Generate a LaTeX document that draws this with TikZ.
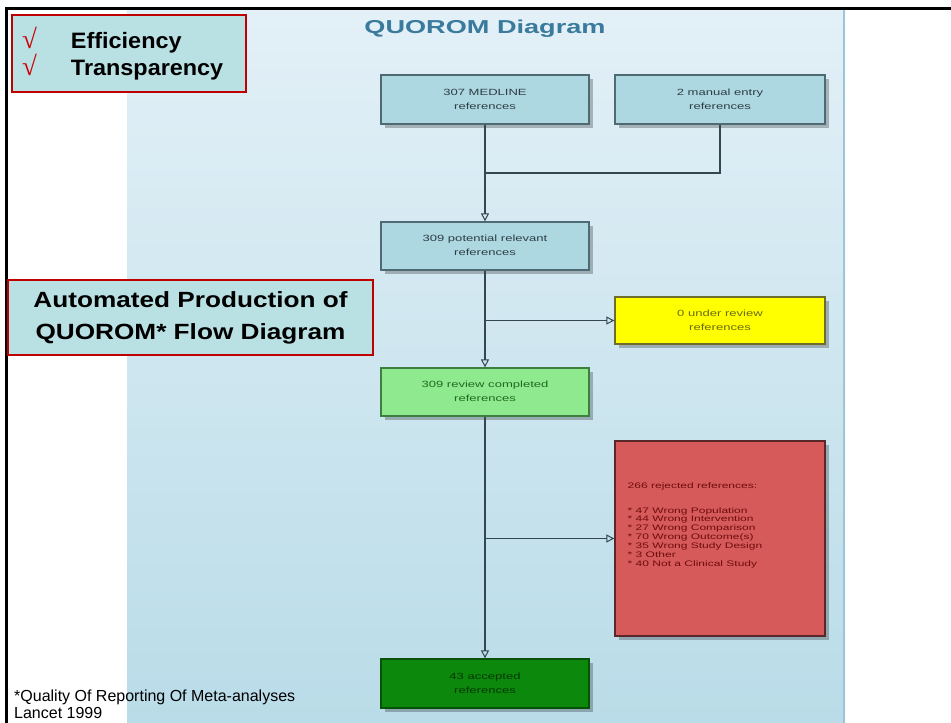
\documentclass[tikz,border=0pt]{standalone}
\usepackage{fontspec}
\setmainfont{Liberation Sans}
\newfontfamily\checkfont{Liberation Serif}
\usepackage{graphicx}
\usetikzlibrary{arrows.meta,shadows,calc}
\definecolor{panelTop}{HTML}{E3F0F7}
\definecolor{panelBot}{HTML}{B9DCE8}
\definecolor{panelEdge}{HTML}{9CC6D6}
\definecolor{titleBlue}{HTML}{3A7A9C}
\definecolor{qBlue}{HTML}{ADD7E1}
\definecolor{qBlueD}{HTML}{4F6A72}
\definecolor{qBlueT}{HTML}{2E3E44}
\definecolor{qYel}{HTML}{FFFF00}
\definecolor{qYelD}{HTML}{6E6E2A}
\definecolor{qYelT}{HTML}{6A6A10}
\definecolor{qLGr}{HTML}{8FE98F}
\definecolor{qLGrD}{HTML}{3E7E3E}
\definecolor{qLGrT}{HTML}{1F6A1F}
\definecolor{qRed}{HTML}{D65A5A}
\definecolor{qRedD}{HTML}{5A2828}
\definecolor{qRedT}{HTML}{6E0C0C}
\definecolor{qDGr}{HTML}{0C880C}
\definecolor{qDGrD}{HTML}{075207}
\definecolor{qDGrT}{HTML}{053805}
\definecolor{connC}{HTML}{34474E}
\definecolor{slideFill}{HTML}{B9E0E3}
\definecolor{slideRed}{HTML}{C00000}
\definecolor{checkRed}{HTML}{CC0000}
\newcommand\bxt[1]{\scalebox{1.45}[1]{\begin{tabular}{@{}c@{}}#1\end{tabular}}}
\newcommand\ckm{\makebox[49pt][l]{\checkfont\fontsize{27}{25}\selectfont\color{checkRed}√}}
\begin{document}
\begin{tikzpicture}[x=1pt,y=-1pt,
  qbox/.style={rectangle, line width=1.3pt, inner sep=0pt,
    font=\fontsize{9}{14}\selectfont,
    drop shadow={shadow xshift=4pt, shadow yshift=-4pt, fill=black, opacity=0.25}},
  bluebox/.style={qbox, fill=qBlue, draw=qBlueD, text=qBlueT},
  yelbox/.style={qbox, fill=qYel, draw=qYelD, text=qYelT},
  lgrbox/.style={qbox, fill=qLGr, draw=qLGrD, text=qLGrT},
  redbx/.style={qbox, fill=qRed, draw=qRedD, text=qRedT, font=\fontsize{8}{8.9}\selectfont},
  dgrbox/.style={qbox, fill=qDGr, draw=qDGrD, text=qDGrT},
  wide/.style={minimum width=208pt, minimum height=49pt},
  conn/.style={draw=connC, line width=1.2pt},
  connarr/.style={conn, -{Triangle[open, length=8pt, width=8pt, line width=1pt]}},
  slidebox/.style={rectangle, fill=slideFill, draw=slideRed, line width=2pt, inner sep=0pt, font=\bfseries}
]
\useasboundingbox (0,0) rectangle (951,723);
\fill[white] (0,0) rectangle (951,723);
% screenshot panel
\shade[top color=panelTop, bottom color=panelBot] (127,10) rectangle (845,723);
\draw[panelEdge, line width=1.5pt] (844,10) -- (844,723);
% slide frame
\draw[black, line width=3pt] (6,723) -- (6,8) -- (951,8);

% title
\node[anchor=base, text=titleBlue, font=\bfseries\fontsize{18.7}{20}\selectfont, inner sep=0pt]
  (title) at (485,33) {\scalebox{1.45}[1]{QUOROM Diagram}};

% flow boxes
\node[bluebox, wide] (med) at (485,99.5) {\bxt{307 MEDLINE\\references}};
\node[bluebox, minimum width=210pt, minimum height=49pt] (man) at (720,99.5) {\bxt{2 manual entry\\references}};
\node[bluebox, wide, minimum height=48pt] (pot) at (485,246) {\bxt{309 potential relevant\\references}};
\node[yelbox, minimum width=210pt, minimum height=47pt] (rev) at (720,320.5) {\bxt{0 under review\\references}};
\node[lgrbox, wide, minimum height=48pt] (comp) at (485,392) {\bxt{309 review completed\\references}};
\node[redbx, minimum width=210pt, minimum height=195pt] (rej) at (720,538.5)
  {\raisebox{11pt}[0pt][0pt]{\scalebox{1.5}[1]{\begin{tabular}{@{}l@{}}266 rejected references:\\[16pt]
  {*} 47 Wrong Population\\
  {*} 44 Wrong Intervention\\
  {*} 27 Wrong Comparison\\
  {*} 70 Wrong Outcome(s)\\
  {*} 35 Wrong Study Design\\
  {*} 3 Other\\
  {*} 40 Not a Clinical Study\end{tabular}}\hspace{50pt}}};
\node[dgrbox, wide] (acc) at (485,683.5) {\bxt{43 accepted\\references}};

% connectors
\coordinate (merge) at (485,173);
\draw[conn] (man.south) |- (merge);
\draw[connarr] (med.south) -- (pot.north);
\draw[connarr] (pot.south) -- (comp.north);
\draw[connarr] (pot.south |- rev.west) -- (rev.west);
\draw[connarr] (comp.south) -- (acc.north);
\draw[connarr] (comp.south |- rej.west) -- (rej.west);

% slide overlays
\node[slidebox, minimum width=234pt, minimum height=77pt, text width=214pt, inner xsep=10pt,
      align=left, font=\bfseries\fontsize{22.3}{25}\selectfont] (eff) at (129,53.5)
  {\ckm\scalebox{1.05}[1]{Efficiency}\\
   \ckm\scalebox{1.05}[1]{Transparency}};
\node[slidebox, minimum width=365pt, minimum height=75pt] (auto) at (190.5,317.5)
  {\fontsize{22}{32}\selectfont\begin{tabular}{@{}c@{}}\scalebox{1.19}[1]{Automated Production of}\\
   \scalebox{1.19}[1]{QUOROM* Flow Diagram}\end{tabular}};

% footnote
\node[anchor=base west, inner sep=0pt, align=left, font=\fontsize{16}{17}\selectfont] (foot) at (14,718.5)
  {*Quality Of Reporting Of Meta-analyses\\Lancet 1999};
\end{tikzpicture}
\end{document}
